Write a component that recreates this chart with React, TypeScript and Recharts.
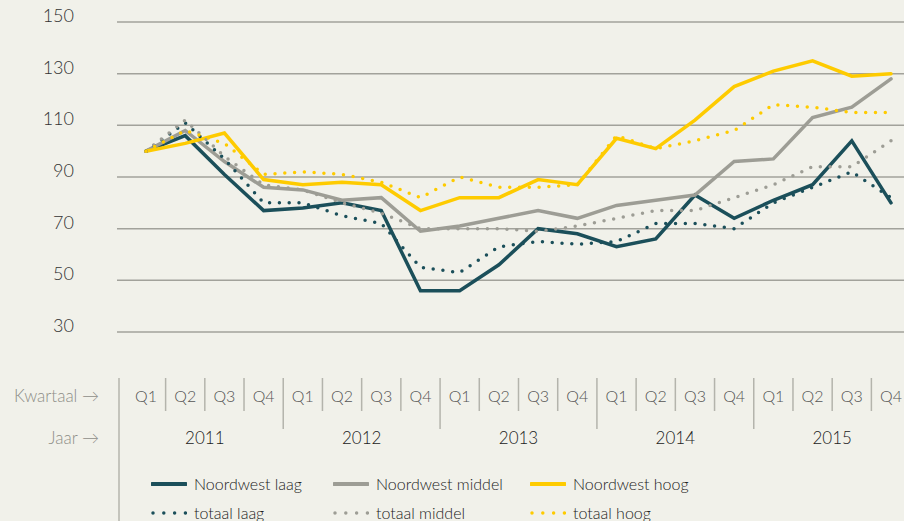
import { LineChart, Line, XAxis, YAxis, CartesianGrid } from "recharts";

const years = ["2011", "2012", "2013", "2014", "2015"];
const quarterLabels = ["Q1", "Q2", "Q3", "Q4"];
const yTicks = [30, 50, 70, 90, 110, 130, 150];

const noordwestLaag = [100, 106, 91, 77, 78, 80, 77, 46, 46, 56, 70, 68, 63, 66, 83, 74, 81, 87, 104, 80];
const noordwestMiddel = [100, 108, 96, 86, 85, 81, 82, 69, 71, 74, 77, 74, 79, 81, 83, 96, 97, 113, 117, 128];
const noordwestHoog = [100, 103, 107, 89, 87, 88, 87, 77, 82, 82, 89, 87, 105, 101, 112, 125, 131, 135, 129, 130];
const totaalLaag = [100, 111, 97, 80, 80, 75, 72, 55, 53, 63, 65, 64, 65, 72, 72, 70, 80, 86, 92, 82];
const totaalMiddel = [100, 112, 98, 87, 85, 80, 76, 70, 70, 70, 69, 71, 74, 77, 77, 82, 87, 94, 94, 104];
const totaalHoog = [100, 108, 103, 91, 92, 91, 88, 82, 90, 86, 86, 87, 106, 101, 104, 108, 118, 117, 115, 115];

const BG = "#f1f1ea";
const GRID = "#a2a29b";
const TEAL = "#1b4f5a";
const GRAY = "#9d9d95";
const YELLOW = "#fecb00";
const FONT = "Lato, 'Open Sans', sans-serif";

const PAD_L = 29;
const PAD_R = 13;
const STEP = (904 - 117 - PAD_L - PAD_R) / 19;

const data = noordwestLaag.map((_, i) => ({
  idx: i,
  nwLaag: noordwestLaag[i],
  nwMiddel: noordwestMiddel[i],
  nwHoog: noordwestHoog[i],
  totLaag: totaalLaag[i],
  totMiddel: totaalMiddel[i],
  totHoog: totaalHoog[i],
}));

const series = [
  { key: "nwLaag", name: "Noordwest laag", color: TEAL, dotted: false },
  { key: "nwMiddel", name: "Noordwest middel", color: GRAY, dotted: false },
  { key: "nwHoog", name: "Noordwest hoog", color: YELLOW, dotted: false },
  { key: "totLaag", name: "totaal laag", color: TEAL, dotted: true },
  { key: "totMiddel", name: "totaal middel", color: GRAY, dotted: true },
  { key: "totHoog", name: "totaal hoog", color: YELLOW, dotted: true },
];

function YTick({ x, y, payload }: any) {
  return (
    <text x={x - 43} y={y} textAnchor="end" fontSize={18} fontWeight={300} fill="#333" fontFamily={FONT}>
      {payload.value}
    </text>
  );
}

function QuarterTick({ x, y, payload }: any) {
  const i = payload.value as number;
  const q = i % 4;
  return (
    <g fontFamily={FONT}>
      {i === 0 && (
        <>
          <line x1={x - 27} x2={x - 27} y1={y + 46} y2={y + 195} stroke="#b4b4ac" strokeWidth={1.5} />
          <text x={x - 47} y={y + 70} textAnchor="end" fontSize={17} fontWeight={300} fill="#8e8e88">
            Kwartaal →
          </text>
          <text x={x - 47} y={y + 112} textAnchor="end" fontSize={17} fontWeight={300} fill="#8e8e88">
            Jaar →
          </text>
        </>
      )}
      <text x={x} y={y + 70} textAnchor="middle" fontSize={16} fontWeight={300} fill="#555">
        {quarterLabels[q]}
      </text>
      {i < 19 && (
        <line
          x1={x + STEP / 2}
          x2={x + STEP / 2}
          y1={y + 46}
          y2={q === 3 ? y + 97 : y + 79}
          stroke="#b4b4ac"
          strokeWidth={1.5}
        />
      )}
      {q === 1 && (
        <text x={x + STEP / 2} y={y + 112} textAnchor="middle" fontSize={17} fontWeight={300} fill="#222">
          {years[Math.floor(i / 4)]}
        </text>
      )}
    </g>
  );
}

function LegendSample({ color, dotted }: { color: string; dotted: boolean }) {
  return (
    <svg width={36} height={10} style={{ marginRight: 7 }}>
      {dotted ? (
        <line x1={2} x2={36} y1={5} y2={5} stroke={color} strokeWidth={3.5} strokeLinecap="round" strokeDasharray="0 10.8" />
      ) : (
        <line x1={1} x2={35} y1={5} y2={5} stroke={color} strokeWidth={4} strokeLinecap="round" />
      )}
    </svg>
  );
}

export default function App() {
  const colWidths = [182, 197, 180];
  return (
    <div style={{ position: "absolute", left: 0, top: 0, width: 904, height: 521, background: BG, overflow: "hidden" }}>
      <LineChart width={904} height={521} data={data} margin={{ top: 22, right: 0, left: 0, bottom: 0 }}>
        <CartesianGrid vertical={false} stroke={GRID} strokeWidth={1.5} />
        <YAxis
          type="number"
          domain={[30, 150]}
          ticks={yTicks}
          width={117}
          axisLine={false}
          tickLine={false}
          tickSize={0}
          tickMargin={0}
          tick={<YTick />}
        />
        <XAxis
          dataKey="idx"
          type="number"
          domain={[0, 19]}
          ticks={data.map((d) => d.idx)}
          interval={0}
          height={189}
          padding={{ left: PAD_L, right: PAD_R }}
          axisLine={false}
          tickLine={false}
          tickSize={0}
          tickMargin={0}
          tick={<QuarterTick />}
        />
        {series.map((s) => (
          <Line
            key={s.key}
            dataKey={s.key}
            name={s.name}
            stroke={s.color}
            strokeWidth={3.5}
            strokeLinecap="round"
            strokeLinejoin="miter"
            strokeDasharray={s.dotted ? "0 9.8" : undefined}
            dot={false}
            activeDot={false}
            type="linear"
            isAnimationActive={false}
          />
        ))}
      </LineChart>
      <div style={{ position: "absolute", left: 151, top: 469, fontFamily: FONT, fontSize: 16, fontWeight: 300, color: "#222", lineHeight: "18px" }}>
        {[0, 1].map((row) => (
          <div key={row} style={{ display: "flex", height: 29, alignItems: "center" }}>
            {series.slice(row * 3, row * 3 + 3).map((s, c) => (
              <div key={s.key} style={{ width: colWidths[c], display: "flex", alignItems: "center" }}>
                <LegendSample color={s.color} dotted={s.dotted} />
                <span>{s.name}</span>
              </div>
            ))}
          </div>
        ))}
      </div>
    </div>
  );
}
